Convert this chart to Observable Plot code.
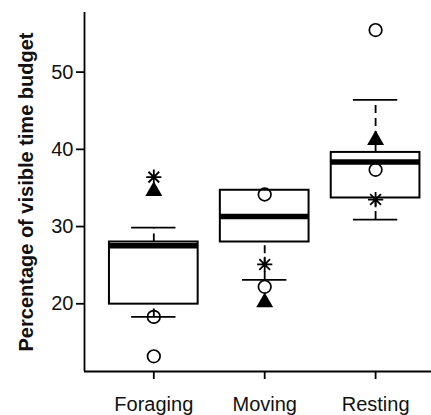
<!DOCTYPE html>
<html>
<head>
<meta charset="utf-8">
<script src="https://cdn.jsdelivr.net/npm/d3@7"></script>
<script src="https://cdn.jsdelivr.net/npm/@observablehq/plot@0.6"></script>
<style>
  html, body { margin: 0; padding: 0; background: #fff; }
  svg { display: block; }
</style>
</head>
<body>
<div id="chart"></div>
<script>
const categories = ["Foraging", "Moving", "Resting"];
const lowerWhisker = [18.3, 23.1, 30.9];
const q1 = [19.95, 28.0, 33.7];
const median = [27.5, 31.3, 38.35];
const q3 = [28.0, 34.7, 39.6];
const upperWhisker = [29.85, 34.7, 46.4];
const circleA = [18.3, 34.15, 37.35];
const circleB = [13.2, 22.2, 55.45];
const triangleVals = [34.6, 20.2, 41.2];
const asteriskVals = [36.4, 25.1, 33.5];
const yTicks = [20, 30, 40, 50];
const yLabel = "Percentage of visible time budget";

const xDomain = [0.375, 3.625];
const yDomain = [11.23, 57.72];

const boxes = categories.map((c, i) => ({
  i: i + 1, c, lo: lowerWhisker[i], q1: q1[i], med: median[i], q3: q3[i], hi: upperWhisker[i]
}));
const circles = categories.flatMap((c, i) => [{i: i + 1, v: circleA[i]}, {i: i + 1, v: circleB[i]}]);
const triangles = categories.map((c, i) => ({i: i + 1, v: triangleVals[i]}));
const asterisks = categories.map((c, i) => ({i: i + 1, v: asteriskVals[i]}));

const asterisk8 = {
  draw(ctx, size) {
    const r = Math.sqrt(size / Math.PI);
    const d = r / Math.SQRT2;
    ctx.moveTo(-r, 0); ctx.lineTo(r, 0);
    ctx.moveTo(0, -r); ctx.lineTo(0, r);
    ctx.moveTo(-d, -d); ctx.lineTo(d, d);
    ctx.moveTo(-d, d); ctx.lineTo(d, -d);
  }
};

const halfBox = 0.4, halfCap = 0.2;
const dash = "8,5";

const chart = Plot.plot({
  width: 431,
  height: 415,
  marginLeft: 84,
  marginRight: 0,
  marginTop: 12,
  marginBottom: 44,
  style: {fontFamily: "'Liberation Sans', Arial, sans-serif", background: "#fff", color: "#000"},
  x: {type: "linear", domain: xDomain, range: [84, 444.4]},
  y: {type: "linear", domain: yDomain, range: [371, 12]},
  marks: [
    // whiskers
    Plot.ruleX(boxes, {x: "i", y1: "q3", y2: "hi", stroke: "#000", strokeWidth: 1.8, strokeDasharray: dash}),
    Plot.ruleX(boxes, {x: "i", y1: "lo", y2: "q1", stroke: "#000", strokeWidth: 1.8, strokeDasharray: dash}),
    // caps
    Plot.ruleY(boxes, {y: "hi", x1: d => d.i - halfCap, x2: d => d.i + halfCap, stroke: "#000", strokeWidth: 1.8}),
    Plot.ruleY(boxes, {y: "lo", x1: d => d.i - halfCap, x2: d => d.i + halfCap, stroke: "#000", strokeWidth: 1.8}),
    // boxes
    Plot.rect(boxes, {x1: d => d.i - halfBox, x2: d => d.i + halfBox, y1: "q1", y2: "q3", fill: "#fff", stroke: "#000", strokeWidth: 2}),
    // medians
    Plot.ruleY(boxes, {y: "med", x1: d => d.i - halfBox, x2: d => d.i + halfBox, stroke: "#000", strokeWidth: 5.5}),
    // points
    Plot.dot(circles, {x: "i", y: "v", r: 6.3, stroke: "#000", strokeWidth: 1.7, fill: "none"}),
    Plot.dot(triangles, {x: "i", y: "v", r: 6.3, symbol: "triangle", fill: "#000", stroke: "none"}),
    Plot.dot(asterisks, {x: "i", y: "v", r: 7.6, symbol: asterisk8, stroke: "#000", strokeWidth: 1.8, fill: "none"}),
    // axes
    Plot.axisY(yTicks, {ticks: yTicks, tickSize: 8, tickPadding: 3, fontSize: 20, strokeWidth: 1.8, label: null, tickFormat: d => String(d), fill: "#111"}),
    Plot.axisX([1, 2, 3], {ticks: [1, 2, 3], tickSize: 8, tickPadding: 17, fontSize: 20, strokeWidth: 1.8, label: null, tickFormat: d => categories[d - 1], fill: "#111"}),
    Plot.ruleX([xDomain[0]], {y1: yDomain[0], y2: yDomain[1], stroke: "#000", strokeWidth: 1.8}),
    Plot.ruleY([yDomain[0]], {stroke: "#000", strokeWidth: 1.8}),
    // y label
    Plot.text([yLabel], {text: d => d, frameAnchor: "left", dx: -52, rotate: -90, textAnchor: "middle", lineAnchor: "bottom", fontSize: 20, fontWeight: "bold", fill: "#111"})
  ]
});
document.getElementById("chart").appendChild(chart);
</script>
</body>
</html>
